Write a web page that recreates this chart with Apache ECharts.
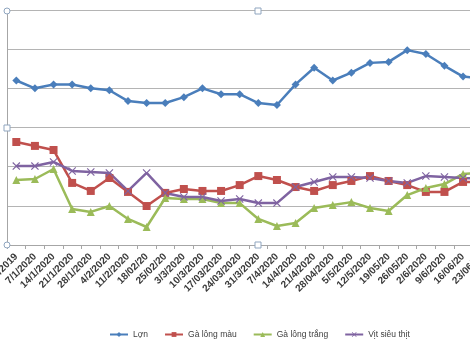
<!DOCTYPE html>
<html>
<head>
<meta charset="utf-8">
<script src="https://cdn.jsdelivr.net/npm/echarts@6/dist/echarts.min.js"></script>
<style>
html,body{margin:0;padding:0;background:#fff;}
#c{width:470px;height:345px;}
</style>
</head>
<body>
<div id="c"></div>
<script>
var categories = ['31/12/2019','7/1/2020','14/1/2020','21/1/2020','28/1/2020','4/2/2020','11/2/2020','18/02/20','25/02/20','3/3/2020','10/3/2020','17/03/2020','24/03/2020','31/3/2020','7/4/2020','14/4/2020','21/4/2020','28/04/2020','5/5/2020','12/5/2020','19/05/20','26/05/20','2/6/2020','9/6/2020','16/06/20','23/06/20'];
var seriesNames = ['Lợn','Gà lông màu','Gà lông trắng','Vịt siêu thịt'];
var lon = [84,80,82,82,80,79,73.5,72.5,72.5,75.5,80,77,77,72.5,71.5,82,90.5,84,88,93,93.5,99.5,97.5,91.5,86,85];
var gaLongMau = [52.6,50.6,48.5,31.7,27.6,34.2,27.1,19.9,26.6,28.6,27.6,27.6,30.6,35.2,33.2,29.6,27.6,30.6,32.7,35.2,32.7,30.6,27.1,27.1,32.2,32];
var gaLongTrang = [33.2,33.7,38.8,18.4,16.9,19.9,13.3,9.2,24.0,23.5,23.5,21.4,21.4,13.3,9.7,11.2,18.9,20.4,21.9,18.9,17.4,25.5,29.1,31.1,36.3,37];
var vitSieuThit = [40.3,40.3,42.4,37.8,37.3,36.8,27.6,36.8,26.6,24.5,24.5,22.5,23.5,21.4,21.4,29.6,32.2,34.7,34.7,34.2,32.7,31.7,35.2,34.7,34.2,34];

var crossPath = 'path://M0,1L1,0L5,4L9,0L10,1L6,5L10,9L9,10L5,6L1,10L0,9L4,5Z';

var chart = echarts.init(document.getElementById('c'));
function handle(shape, x, y) {
  if (shape === 'circle') {
    return {type:'circle', shape:{cx:x, cy:y, r:3}, style:{fill:'#fff', stroke:'#8fa5bf', lineWidth:1}, z:100};
  }
  return {type:'rect', shape:{x:x-3, y:y-3, width:6, height:6}, style:{fill:'#fff', stroke:'#8fa5bf', lineWidth:1}, z:100};
}
chart.setOption({
  animation:false,
  backgroundColor:'#fff',
  grid:{left:7, top:10, width:484, height:235, containLabel:false, outerBoundsMode:'none'},
  legend:{
    data:seriesNames,
    left:104, top:325,
    itemWidth:18, itemHeight:6, itemGap:16,
    textStyle:{fontFamily:'Liberation Sans', fontSize:8.5, color:'#404040'}
  },
  xAxis:{
    type:'category',
    data:categories,
    boundaryGap:true,
    axisLine:{lineStyle:{color:'#a6a6a6', width:1}},
    axisTick:{show:true, length:4, lineStyle:{color:'#a6a6a6'}},
    axisLabel:{interval:0, rotate:45, margin:10, fontFamily:'Liberation Sans', fontSize:10, fontWeight:'bold', color:'#3a3a3a'}
  },
  yAxis:{
    type:'value', min:0, max:120, interval:20,
    axisLine:{show:true, lineStyle:{color:'#a6a6a6', width:1}},
    axisTick:{show:false},
    axisLabel:{show:false},
    splitLine:{lineStyle:{color:'#b4b4b4', width:1}}
  },
  series:[
    {name:seriesNames[0], type:'line', data:lon, symbol:'diamond', symbolSize:8,
     lineStyle:{color:'#4a7ebb', width:2.5}, itemStyle:{color:'#4a7ebb'}},
    {name:seriesNames[1], type:'line', data:gaLongMau, symbol:'rect', symbolSize:8,
     lineStyle:{color:'#c0504d', width:2.5}, itemStyle:{color:'#c0504d'}},
    {name:seriesNames[2], type:'line', data:gaLongTrang, symbol:'triangle', symbolSize:8,
     lineStyle:{color:'#9bbb59', width:2.5}, itemStyle:{color:'#9bbb59'}},
    {name:seriesNames[3], type:'line', data:vitSieuThit, symbol:crossPath, symbolSize:8,
     lineStyle:{color:'#7f63a1', width:2.5}, itemStyle:{color:'#7f63a1'}}
  ],
  graphic:[
    handle('circle', 7, 11),
    handle('rect', 258, 11),
    handle('rect', 7, 128),
    handle('circle', 7, 245),
    handle('rect', 258, 245)
  ]
});
</script>
</body>
</html>
